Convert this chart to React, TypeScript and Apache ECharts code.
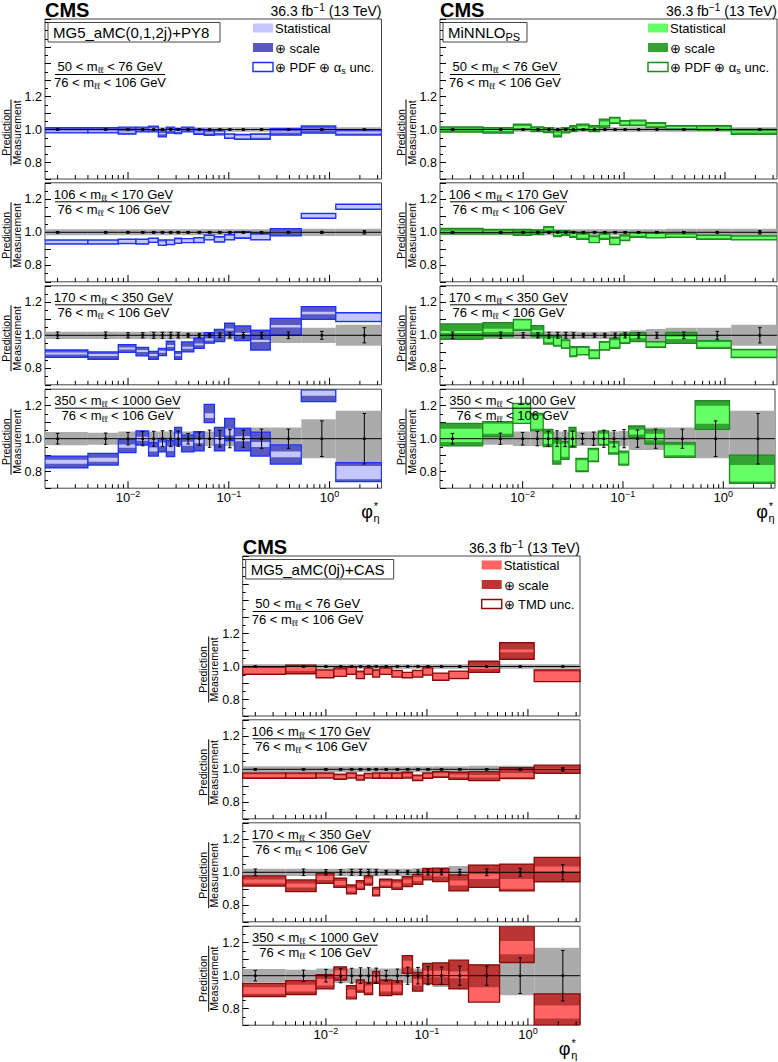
import React, { useEffect, useRef } from "react";
import * as echarts from "echarts";

const FONT = "'Liberation Sans', Arial, Helvetica, sans-serif";

// ---------- binning ----------
const PHI_EDGES = [0.0015, 0.004, 0.008, 0.012, 0.016, 0.020, 0.024, 0.029, 0.034, 0.045, 0.057, 0.072, 0.091, 0.114, 0.165, 0.258, 0.524, 1.153, 3.277];
const PHI_CENTERS = [0.002, 0.006, 0.010, 0.014, 0.018, 0.022, 0.0265, 0.0315, 0.0395, 0.051, 0.0645, 0.0815, 0.1025, 0.1395, 0.2115, 0.391, 0.8385, 2.215];
const X_MIN = 0.0015;
const X_MAX = 3.277;
const MINOR_TICKS = [0.002, 0.003, 0.004, 0.005, 0.006, 0.007, 0.008, 0.009, 0.02, 0.03, 0.04, 0.05, 0.06, 0.07, 0.08, 0.09, 0.2, 0.3, 0.4, 0.5, 0.6, 0.7, 0.8, 0.9, 2, 3];
const MAJOR_TICKS = [0.01, 0.1, 1];
const Y_MIN = 0.7;
const Y_MAX = [1.67, 1.3, 1.3, 1.3];
const Y_LABELS = ["0.8", "1.0", "1.2"];

const MASS_NUM = ["50 < m{s|ℓℓ} < 76 GeV", "106 < m{s|ℓℓ} < 170 GeV", "170 < m{s|ℓℓ} < 350 GeV", "350 < m{s|ℓℓ} < 1000 GeV"];
const MASS_DEN = "76 < m{s|ℓℓ} < 106 GeV";

// ---------- measurement (ratio = 1) ----------
const MEAS_BAND = [
  [0.014, 0.014, 0.014, 0.014, 0.014, 0.014, 0.014, 0.014, 0.014, 0.014, 0.014, 0.014, 0.014, 0.014, 0.014, 0.014, 0.014, 0.014],
  [0.018, 0.018, 0.018, 0.018, 0.018, 0.018, 0.018, 0.018, 0.018, 0.018, 0.018, 0.018, 0.018, 0.018, 0.018, 0.022, 0.022, 0.022],
  [0.022, 0.022, 0.022, 0.022, 0.024, 0.024, 0.024, 0.024, 0.022, 0.022, 0.022, 0.024, 0.026, 0.030, 0.038, 0.046, 0.046, 0.064],
  [0.040, 0.036, 0.044, 0.044, 0.044, 0.044, 0.044, 0.044, 0.044, 0.044, 0.044, 0.044, 0.046, 0.068, 0.068, 0.068, 0.118, 0.170],
];
const MEAS_ERR = [
  [0.003, 0.003, 0.003, 0.003, 0.003, 0.003, 0.003, 0.003, 0.003, 0.003, 0.003, 0.003, 0.003, 0.003, 0.003, 0.003, 0.003, 0.003],
  [0.005, 0.005, 0.005, 0.005, 0.005, 0.005, 0.005, 0.005, 0.005, 0.005, 0.005, 0.005, 0.005, 0.005, 0.005, 0.005, 0.006, 0.010],
  [0.020, 0.020, 0.016, 0.016, 0.018, 0.018, 0.018, 0.016, 0.012, 0.012, 0.012, 0.014, 0.016, 0.016, 0.018, 0.020, 0.024, 0.046],
  [0.032, 0.034, 0.038, 0.043, 0.045, 0.048, 0.048, 0.046, 0.032, 0.040, 0.052, 0.050, 0.055, 0.052, 0.058, 0.058, 0.108, 0.153],
];

// ---------- MG5_aMC(0,1,2j)+PY8 ----------
const MG5_LO = [
  [0.980, 0.980, 0.972, 0.986, 0.986, 0.955, 0.978, 0.975, 0.986, 0.970, 0.965, 0.968, 0.946, 0.940, 0.940, 0.966, 0.978, 0.966],
  [0.929, 0.929, 0.931, 0.929, 0.939, 0.921, 0.925, 0.933, 0.937, 0.937, 0.954, 0.941, 0.954, 0.964, 0.954, 0.978, 1.085, 1.139],
  [0.867, 0.855, 0.897, 0.875, 0.855, 0.877, 0.911, 0.855, 0.899, 0.921, 0.952, 0.962, 1.002, 0.968, 0.911, 1.002, 1.097, 1.083],
  [0.824, 0.840, 0.915, 0.962, 0.895, 0.921, 0.891, 0.962, 0.921, 0.927, 1.097, 0.927, 0.988, 0.927, 0.895, 0.846, 1.225, 0.740],
];
const MG5_HI = [
  [1.012, 1.012, 1.014, 1.014, 1.020, 0.998, 1.014, 1.006, 1.014, 1.002, 0.998, 0.998, 0.974, 0.970, 0.974, 1.006, 1.022, 0.998],
  [0.954, 0.954, 0.958, 0.958, 0.964, 0.954, 0.954, 0.964, 0.962, 0.968, 0.982, 0.974, 0.986, 1.004, 0.994, 1.022, 1.115, 1.170],
  [0.911, 0.899, 0.943, 0.927, 0.903, 0.921, 0.964, 0.901, 0.960, 0.982, 1.016, 1.036, 1.073, 1.057, 1.028, 1.103, 1.174, 1.137],
  [0.895, 0.911, 0.996, 1.048, 0.976, 1.002, 0.988, 1.069, 1.022, 1.042, 1.208, 1.069, 1.123, 1.063, 1.040, 0.962, 1.420, 0.855],
];
const MG5_C = [
  [0.990, 0.990, 0.985, 1.000, 1.005, 0.975, 0.995, 0.990, 1.000, 0.985, 0.980, 0.983, 0.960, 0.955, 0.958, 0.985, 1.000, 0.982],
  [0.940, 0.940, 0.945, 0.943, 0.952, 0.935, 0.940, 0.947, 0.950, 0.953, 0.968, 0.957, 0.970, 0.982, 0.972, 1.000, 1.100, 1.155],
  [0.890, 0.880, 0.920, 0.905, 0.880, 0.900, 0.935, 0.880, 0.925, 0.945, 0.975, 1.000, 1.035, 1.010, 0.965, 1.055, 1.135, 1.110],
  [0.860, 0.873, 0.955, 1.000, 0.935, 0.965, 0.940, 1.015, 0.970, 0.985, 1.140, 0.990, 1.040, 1.000, 0.965, 0.905, 1.275, 0.795],
];
const MG5_ST = [
  [0.004, 0.004, 0.004, 0.004, 0.004, 0.004, 0.004, 0.004, 0.004, 0.004, 0.004, 0.004, 0.008, 0.008, 0.008, 0.004, 0.004, 0.006],
  [0.009, 0.009, 0.009, 0.010, 0.009, 0.010, 0.010, 0.010, 0.009, 0.010, 0.010, 0.010, 0.010, 0.012, 0.012, 0.004, 0.010, 0.010],
  [0.006, 0.006, 0.006, 0.006, 0.006, 0.006, 0.006, 0.006, 0.006, 0.006, 0.006, 0.006, 0.006, 0.006, 0.006, 0.008, 0.008, 0.022],
  [0.012, 0.012, 0.010, 0.012, 0.012, 0.012, 0.015, 0.015, 0.012, 0.012, 0.015, 0.020, 0.020, 0.015, 0.015, 0.017, 0.015, 0.040],
];

// ---------- MiNNLO_PS ----------
const MINNLO_LO = [
  [0.984, 0.978, 1.000, 0.988, 0.982, 0.955, 0.980, 0.988, 0.996, 0.988, 1.012, 1.037, 1.024, 1.024, 1.012, 1.000, 0.996, 0.971],
  [0.990, 0.990, 0.982, 0.986, 1.004, 0.974, 0.982, 0.970, 0.958, 0.937, 0.958, 0.925, 0.950, 0.970, 0.966, 0.970, 0.958, 0.954],
  [0.976, 0.992, 1.028, 0.992, 0.947, 0.935, 0.921, 0.871, 0.881, 0.859, 0.911, 0.921, 0.951, 0.962, 0.927, 0.951, 0.921, 0.865],
  [0.956, 1.012, 1.093, 1.048, 0.952, 0.846, 0.875, 0.947, 0.800, 0.861, 0.962, 0.907, 0.840, 1.008, 0.968, 0.887, 1.057, 0.729],
];
const MINNLO_HI = [
  [1.016, 1.012, 1.033, 1.016, 1.012, 0.996, 1.012, 1.024, 1.033, 1.024, 1.063, 1.073, 1.053, 1.057, 1.041, 1.024, 1.024, 1.000],
  [1.024, 1.018, 1.018, 1.014, 1.034, 1.010, 1.010, 1.002, 0.994, 0.978, 0.994, 0.970, 0.984, 0.998, 0.994, 0.990, 0.982, 0.978],
  [1.069, 1.077, 1.097, 1.059, 0.996, 0.992, 0.972, 0.931, 0.931, 0.911, 0.962, 0.982, 1.008, 1.016, 0.962, 1.018, 0.968, 0.915],
  [1.093, 1.103, 1.214, 1.154, 1.057, 1.002, 0.982, 1.069, 0.881, 0.941, 1.048, 0.982, 0.925, 1.077, 1.053, 0.976, 1.230, 0.901],
];
const MINNLO_C = [
  [1.000, 0.995, 1.015, 1.002, 0.998, 0.975, 0.997, 1.006, 1.014, 1.006, 1.038, 1.055, 1.040, 1.040, 1.027, 1.012, 1.010, 0.986],
  [1.005, 1.004, 1.000, 1.000, 1.020, 0.990, 0.996, 0.985, 0.975, 0.955, 0.975, 0.945, 0.965, 0.985, 0.980, 0.980, 0.970, 0.966],
  [1.020, 1.030, 1.065, 1.025, 0.970, 0.963, 0.946, 0.900, 0.905, 0.885, 0.935, 0.950, 0.980, 0.990, 0.945, 0.985, 0.945, 0.890],
  [1.020, 1.060, 1.150, 1.100, 1.000, 0.920, 0.930, 1.000, 0.840, 0.900, 1.000, 0.945, 0.880, 1.040, 1.010, 0.930, 1.145, 0.790],
];
const MINNLO_ST = [
  [0.004, 0.004, 0.006, 0.004, 0.004, 0.006, 0.004, 0.004, 0.006, 0.004, 0.010, 0.010, 0.008, 0.008, 0.006, 0.004, 0.004, 0.004],
  [0.004, 0.004, 0.004, 0.004, 0.004, 0.006, 0.004, 0.006, 0.008, 0.015, 0.008, 0.015, 0.008, 0.006, 0.010, 0.008, 0.008, 0.008],
  [0.006, 0.010, 0.025, 0.006, 0.012, 0.020, 0.018, 0.020, 0.018, 0.018, 0.018, 0.020, 0.020, 0.008, 0.012, 0.008, 0.015, 0.018],
  [0.040, 0.030, 0.060, 0.040, 0.030, 0.050, 0.040, 0.040, 0.030, 0.030, 0.030, 0.025, 0.030, 0.015, 0.020, 0.030, 0.055, 0.050],
];

// ---------- MG5_aMC(0j)+CAS ----------
const CAS_LO = [
  [0.952, 0.956, 0.932, 0.940, 0.952, 0.926, 0.952, 0.936, 0.952, 0.936, 0.932, 0.936, 0.948, 0.916, 0.926, 0.964, 1.044, 0.908],
  [0.945, 0.945, 0.947, 0.939, 0.947, 0.935, 0.947, 0.945, 0.945, 0.945, 0.947, 0.931, 0.945, 0.951, 0.939, 0.931, 0.943, 0.975],
  [0.917, 0.883, 0.933, 0.909, 0.869, 0.897, 0.923, 0.857, 0.909, 0.897, 0.913, 0.927, 0.954, 0.943, 0.887, 0.909, 0.887, 0.943],
  [0.874, 0.886, 0.920, 0.974, 0.860, 0.900, 0.886, 0.954, 0.880, 0.886, 1.014, 0.906, 0.950, 0.946, 0.920, 0.840, 1.080, 0.680],
];
const CAS_HI = [
  [0.996, 1.008, 0.980, 0.992, 0.996, 0.972, 0.992, 0.980, 0.992, 0.976, 0.964, 0.976, 0.992, 0.960, 0.972, 1.032, 1.144, 0.980],
  [0.978, 0.978, 0.978, 0.971, 0.978, 0.965, 0.975, 0.978, 0.978, 0.978, 0.982, 0.965, 0.978, 0.986, 0.982, 0.986, 1.010, 1.025],
  [0.978, 0.954, 0.994, 0.964, 0.923, 0.950, 0.978, 0.909, 0.958, 0.954, 0.974, 0.988, 1.024, 1.024, 0.984, 1.044, 1.050, 1.090],
  [0.954, 0.970, 1.006, 1.054, 0.940, 0.974, 0.960, 1.026, 0.974, 0.970, 1.122, 1.020, 1.074, 1.078, 1.094, 1.066, 1.400, 0.890],
];
const CAS_C = [
  [0.975, 0.985, 0.955, 0.960, 0.975, 0.945, 0.972, 0.955, 0.970, 0.955, 0.948, 0.955, 0.970, 0.940, 0.950, 0.995, 1.095, 0.940],
  [0.962, 0.962, 0.962, 0.955, 0.962, 0.950, 0.960, 0.962, 0.962, 0.962, 0.964, 0.948, 0.962, 0.968, 0.960, 0.958, 0.965, 1.000],
  [0.945, 0.920, 0.965, 0.935, 0.895, 0.920, 0.950, 0.880, 0.932, 0.925, 0.945, 0.958, 0.990, 0.985, 0.935, 0.975, 0.930, 1.020],
  [0.910, 0.925, 0.960, 1.012, 0.895, 0.935, 0.920, 0.990, 0.925, 0.925, 1.070, 0.960, 1.010, 1.010, 1.005, 0.885, 1.170, 0.780],
];
const CAS_ST = [
  [0.018, 0.012, 0.020, 0.020, 0.018, 0.018, 0.016, 0.018, 0.016, 0.016, 0.014, 0.016, 0.018, 0.018, 0.018, 0.010, 0.008, 0.030],
  [0.008, 0.008, 0.008, 0.008, 0.008, 0.008, 0.008, 0.008, 0.008, 0.008, 0.008, 0.008, 0.008, 0.008, 0.008, 0.008, 0.012, 0.006],
  [0.012, 0.012, 0.012, 0.012, 0.012, 0.012, 0.012, 0.012, 0.012, 0.012, 0.012, 0.012, 0.010, 0.010, 0.015, 0.015, 0.030, 0.015],
  [0.020, 0.020, 0.020, 0.020, 0.020, 0.020, 0.020, 0.020, 0.020, 0.020, 0.020, 0.020, 0.020, 0.020, 0.020, 0.045, 0.040, 0.040],
];

const MODEL_NAMES = ["MG5_aMC(0,1,2j)+PY8", "MiNNLO{s|PS}", "MG5_aMC(0j)+CAS"];
const LEGEND_TEXTS = [
  ["Statistical", "⊕ scale", "⊕ PDF ⊕ α{s|s} unc."],
  ["Statistical", "⊕ scale", "⊕ PDF ⊕ α{s|s} unc."],
  ["Statistical", "⊕ scale", "⊕ TMD unc."],
];
const MODEL_DATA = [
  { lo: MG5_LO, hi: MG5_HI, c: MG5_C, st: MG5_ST },
  { lo: MINNLO_LO, hi: MINNLO_HI, c: MINNLO_C, st: MINNLO_ST },
  { lo: CAS_LO, hi: CAS_HI, c: CAS_C, st: CAS_ST },
];

// ---------- styling / layout ----------
const COLORS = [
  { light: "#c6c6ff", dark: "#5858c0", border: "#1a33ff" },
  { light: "#66ff66", dark: "#34a334", border: "#1d8a1d" },
  { light: "#ff6464", dark: "#bb3535", border: "#8b0a0a" },
];
const GX = [45, 440, 242.7];
const GY = [0, 0, 537];
const GW = [336.5, 337, 337.3];
const PT = [19, 182.8, 285.8, 389.2];
const PH = [160, 99, 99, 99];
const NAME_BOX_W = [172, 84, 148];
const LEG_X = [208, 208, 239];
const LINE_W = [110, 117, 117, 125];

const SUB = { fontSize: 9, lineHeight: 8, verticalAlign: "bottom", fontFamily: FONT };
const SUP = { fontSize: 9, lineHeight: 8, verticalAlign: "top", fontFamily: FONT };

function txt(x: number, y: number, text: string, size: number, extra: any = {}) {
  const align = extra.align || "left";
  return {
    type: "text",
    x, y,
    rotation: extra.rotation || 0,
    z: 100,
    style: {
      text, fontSize: size, fontFamily: FONT, fontWeight: extra.weight || "normal",
      fill: "#000", lineHeight: extra.lineHeight || size + 3,
      textAlign: align, align, textVerticalAlign: "middle", verticalAlign: "middle",
      rich: extra.rich || undefined,
    },
  };
}

function buildOption() {
  const grid: any[] = [];
  const xAxis: any[] = [];
  const yAxis: any[] = [];
  const series: any[] = [];
  const graphic: any[] = [];

  for (let g = 0; g < 3; g++) {
    const col = COLORS[g];
    const md = MODEL_DATA[g];
    const gx = GX[g], gy = GY[g], gw = GW[g];

    for (let p = 0; p < 4; p++) {
      const gi = g * 4 + p;
      const yMax = Y_MAX[p];
      grid.push({
        left: gx, top: gy + PT[p], width: gw, height: PH[p],
        show: true, borderColor: "#444", borderWidth: 1, backgroundColor: "transparent",
      });
      xAxis.push({
        type: "log", logBase: 10, gridIndex: gi, min: X_MIN, max: X_MAX,
        axisLine: { show: false }, axisTick: { show: false }, splitLine: { show: false },
        axisLabel: p === 3 ? {
          show: true, margin: 1, color: "#000",
          formatter: (v: number) => {
            const e = Math.log10(v);
            const r = Math.round(e);
            if (Math.abs(e - r) > 1e-6) return "";
            return `{b|10}{s|${r < 0 ? "−" + -r : r}}`;
          },
          rich: {
            b: { fontSize: 13, lineHeight: 17, fontFamily: FONT, color: "#000" },
            s: { fontSize: 9, lineHeight: 9, verticalAlign: "top", fontFamily: FONT, color: "#000" },
          },
        } : { show: false },
      });
      yAxis.push({
        type: "value", gridIndex: gi, min: Y_MIN, max: yMax, interval: 0.1,
        axisLine: { show: false },
        axisTick: { show: true, inside: true, length: 6, lineStyle: { color: "#000", width: 1 } },
        minorTick: { show: true, splitNumber: 2, length: 3, lineStyle: { color: "#000", width: 1 } },
        splitLine: { show: false },
        axisLabel: {
          show: true, margin: 3, fontSize: 12.5, fontFamily: FONT, color: "#000",
          formatter: (v: number) => {
            const s = v.toFixed(1);
            return Y_LABELS.includes(s) && Math.abs(v - parseFloat(s)) < 1e-6 ? s : "";
          },
        },
      });

      // measurement uncertainty band
      const bandData = PHI_CENTERS.map((_, i) => [PHI_EDGES[i], PHI_EDGES[i + 1], 1 - MEAS_BAND[p][i], 1 + MEAS_BAND[p][i]]);
      series.push({
        type: "custom", xAxisIndex: gi, yAxisIndex: gi, z: 1, clip: true,
        data: bandData, encode: { x: [0, 1], y: [2, 3] },
        renderItem: (params: any, api: any) => {
          const lo = Math.max(Y_MIN, api.value(2)), hi = Math.min(yMax, api.value(3));
          const a = api.coord([api.value(0), hi]);
          const b = api.coord([api.value(1), lo]);
          return { type: "rect", shape: { x: a[0], y: a[1], width: b[0] - a[0], height: b[1] - a[1] }, style: { fill: "#ababab" } };
        },
      });

      // model prediction boxes
      const boxData = PHI_CENTERS.map((_, i) => [PHI_EDGES[i], PHI_EDGES[i + 1], md.lo[p][i], md.hi[p][i], md.c[p][i], md.st[p][i]]);
      series.push({
        type: "custom", xAxisIndex: gi, yAxisIndex: gi, z: 2, clip: true,
        data: boxData, encode: { x: [0, 1], y: [2, 3] },
        renderItem: (params: any, api: any) => {
          const cl = (v: number) => Math.max(Y_MIN, Math.min(yMax, v));
          const x0 = api.value(0), x1 = api.value(1);
          const lo = cl(api.value(2)), hi = cl(api.value(3));
          const c = api.value(4), st = api.value(5);
          const sLo = cl(Math.max(lo, c - st)), sHi = cl(Math.min(hi, c + st));
          const a = api.coord([x0, hi]), b = api.coord([x1, lo]);
          const qa = api.coord([x0, sHi]), qb = api.coord([x1, sLo]);
          const outer = { x: a[0], y: a[1], width: b[0] - a[0], height: b[1] - a[1] };
          return {
            type: "group",
            children: [
              { type: "rect", shape: outer, style: { fill: col.dark } },
              { type: "rect", shape: { x: qa[0], y: qa[1], width: qb[0] - qa[0], height: Math.max(0, qb[1] - qa[1]) }, style: { fill: col.light } },
              { type: "rect", shape: outer, style: { fill: "none", stroke: col.border, lineWidth: 1.3 } },
            ],
          };
        },
      });

      // measurement points
      const ptData = PHI_CENTERS.map((xc, i) => [PHI_EDGES[i], PHI_EDGES[i + 1], xc, 1, MEAS_ERR[p][i]]);
      series.push({
        type: "custom", xAxisIndex: gi, yAxisIndex: gi, z: 3, clip: true,
        data: ptData, encode: { x: [0, 1, 2], y: 3 },
        renderItem: (params: any, api: any) => {
          const err = api.value(4);
          const a = api.coord([api.value(0), 1]);
          const b = api.coord([api.value(1), 1]);
          const c = api.coord([api.value(2), 1]);
          const top = api.coord([api.value(2), Math.min(yMax, 1 + err)])[1];
          const bot = api.coord([api.value(2), Math.max(Y_MIN, 1 - err)])[1];
          const ls = { stroke: "#000", lineWidth: 1 };
          return {
            type: "group",
            children: [
              { type: "line", shape: { x1: a[0], y1: a[1], x2: b[0], y2: b[1] }, style: ls },
              { type: "line", shape: { x1: c[0], y1: top, x2: c[0], y2: bot }, style: ls },
              { type: "line", shape: { x1: c[0] - 1.8, y1: top, x2: c[0] + 1.8, y2: top }, style: ls },
              { type: "line", shape: { x1: c[0] - 1.8, y1: bot, x2: c[0] + 1.8, y2: bot }, style: ls },
              { type: "rect", shape: { x: c[0] - 1.3, y: c[1] - 1.3, width: 2.6, height: 2.6 }, style: { fill: "#000" } },
            ],
          };
        },
      });

      // log-axis tick marks
      const tickData = [
        ...MINOR_TICKS.map((v) => [v, 1, 0]),
        ...MAJOR_TICKS.map((v) => [v, 1, 1]),
      ];
      series.push({
        type: "custom", xAxisIndex: gi, yAxisIndex: gi, z: 4,
        data: tickData, encode: { x: 0, y: 1 },
        renderItem: (params: any, api: any) => {
          const pt = api.coord([api.value(0), Y_MIN]);
          const len = api.value(2) ? 7 : 4;
          return { type: "line", shape: { x1: pt[0], y1: pt[1], x2: pt[0], y2: pt[1] - len }, style: { stroke: "#000", lineWidth: 1 } };
        },
      });

      // y-axis title (Prediction / Measurement)
      const y1 = gy + PT[p] + ((yMax - 1) / (yMax - Y_MIN)) * PH[p];
      const yc = y1 + 3;
      graphic.push(txt(gx - 39.5, yc, "Prediction", 10.5, { rotation: Math.PI / 2, align: "center" }));
      graphic.push(txt(gx - 28.5, yc, "Measurement", 10.5, { rotation: Math.PI / 2, align: "center" }));
      graphic.push({ type: "line", z: 100, shape: { x1: gx - 34, y1: yc - 33, x2: gx - 34, y2: yc + 33 }, style: { stroke: "#000", lineWidth: 1 } });

      // mass label
      const top = gy + PT[p];
      const yNum = p === 0 ? gy + 66 : top + 11.5;
      const yLine = p === 0 ? gy + 74.5 : top + 19;
      const yDen = p === 0 ? gy + 82 : top + 26.5;
      const lx = gx + 10 + LINE_W[p] / 2;
      graphic.push(txt(lx, yNum, MASS_NUM[p], 13, { align: "center", rich: { s: SUB }, lineHeight: 16 }));
      graphic.push({ type: "line", z: 100, shape: { x1: gx + 10, y1: yLine, x2: gx + 10 + LINE_W[p], y2: yLine }, style: { stroke: "#000", lineWidth: 1 } });
      graphic.push(txt(lx, yDen, MASS_DEN, 13, { align: "center", rich: { s: SUB }, lineHeight: 16 }));
    }

    // header
    graphic.push(txt(gx, gy + 10, "CMS", 20, { weight: "bold", lineHeight: 20 }));
    graphic.push(txt(gx + gw, gy + 11, "36.3 fb{s|−1} (13 TeV)", 14, { align: "right", rich: { s: { ...SUP, fontSize: 10 } }, lineHeight: 18 }));

    // model name box
    graphic.push({ type: "rect", z: 100, shape: { x: gx + 3, y: gy + 22.5, width: NAME_BOX_W[g], height: 19.5 }, style: { fill: "#fff", stroke: "#444", lineWidth: 1 } });
    graphic.push(txt(gx + 8, gy + 32.5, MODEL_NAMES[g], 15, { rich: { s: { ...SUB, fontSize: 11, lineHeight: 9 } }, lineHeight: 19 }));

    // legend
    const lx0 = gx + LEG_X[g];
    const rowsY = [28, 47.5, 67];
    const fills = [col.light, col.dark, "#fff"];
    rowsY.forEach((ry, k) => {
      graphic.push({
        type: "rect", z: 100,
        shape: { x: lx0, y: gy + ry - 4.5, width: 20, height: 9 },
        style: k === 2 ? { fill: "#fff", stroke: col.border, lineWidth: 1.4 } : { fill: fills[k] },
      });
      graphic.push(txt(lx0 + 22, gy + ry + 0.5, LEGEND_TEXTS[g][k], 13, { rich: { s: SUB }, lineHeight: 16 }));
    });

    // x-axis title phi*_eta
    graphic.push(txt(gx + 322, gy + 512, "φ", 18, { align: "center" }));
    graphic.push(txt(gx + 331, gy + 505.5, "*", 11, { align: "center" }));
    graphic.push(txt(gx + 331.5, gy + 518, "η", 11, { align: "center" }));
  }

  return {
    animation: false,
    backgroundColor: "#fff",
    textStyle: { fontFamily: FONT },
    grid, xAxis, yAxis, series, graphic,
  };
}

export default function App() {
  const ref = useRef<HTMLDivElement>(null);
  useEffect(() => {
    if (!ref.current) return;
    const chart = echarts.init(ref.current, undefined, { renderer: "svg" });
    chart.setOption(buildOption() as any);
    return () => chart.dispose();
  }, []);
  return (
    <div
      ref={ref}
      style={{ position: "absolute", left: 0, top: 0, width: 778, height: 1062, background: "#fff" }}
    />
  );
}
